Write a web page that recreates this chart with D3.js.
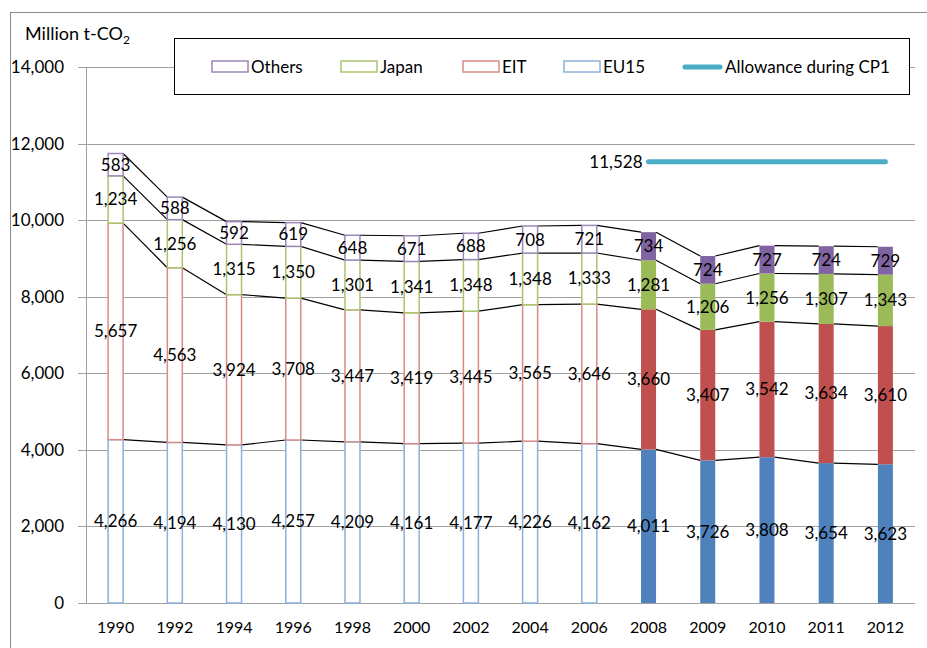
<!DOCTYPE html>
<html>
<head>
<meta charset="utf-8">
<script src="https://cdn.jsdelivr.net/npm/d3@7"></script>
<style>
body { margin: 0; background: #fff; }
text { font-family: Lato, "Open Sans", sans-serif; }
</style>
</head>
<body>
<script>
var years = ["1990","1992","1994","1996","1998","2000","2002","2004","2006","2008","2009","2010","2011","2012"];
var eu15 = [4266,4194,4130,4257,4209,4161,4177,4226,4162,4011,3726,3808,3654,3623];
var eit = [5657,4563,3924,3708,3447,3419,3445,3565,3646,3660,3407,3542,3634,3610];
var japan = [1234,1256,1315,1350,1301,1341,1348,1348,1333,1281,1206,1256,1307,1343];
var others = [583,588,592,619,648,671,688,708,721,734,724,727,724,729];
var allowance = 11528;
var allowanceYears = ["2008","2012"];
var hollowYears = years.slice(0, 9);

var series = [
  {name: "EU15", vals: eu15, fill: "#4F81BD", stroke: "#8DB0DC"},
  {name: "EIT", vals: eit, fill: "#C0504D", stroke: "#D98B89"},
  {name: "Japan", vals: japan, fill: "#9BBB59", stroke: "#A9C56E"},
  {name: "Others", vals: others, fill: "#8064A2", stroke: "#9C86BA"}
];

var w = 927, h = 648;
var m = {left: 86, right: 915, top: 67, bottom: 603};
var fs = "17px";

var svg = d3.select("body").append("svg")
  .attr("width", w)
  .attr("height", h);

// chart frame
svg.append("rect")
  .attr("x", 10.5).attr("y", 12.5)
  .attr("width", 940).attr("height", 660)
  .attr("fill", "none").attr("stroke", "#8c8c8c");

var x = d3.scaleBand().domain(years).range([m.left, m.right]);
var y = d3.scaleLinear().domain([0, 14000]).range([m.bottom, m.top]);
var bw = 15;

// gridlines
svg.append("g").selectAll("line")
  .data(y.ticks(7))
  .enter().append("line")
  .attr("x1", m.left - 8).attr("x2", m.right)
  .attr("y1", function(d) { return Math.round(y(d)) + 0.5; })
  .attr("y2", function(d) { return Math.round(y(d)) + 0.5; })
  .attr("stroke", "#a0a0a0");

svg.append("line")
  .attr("x1", m.left + 0.5).attr("x2", m.left + 0.5)
  .attr("y1", m.top).attr("y2", m.bottom)
  .attr("stroke", "#a0a0a0");

var yAxis = svg.append("g")
  .attr("transform", "translate(" + (m.left - 19) + ",0)")
  .call(d3.axisLeft(y).ticks(7).tickSize(0).tickFormat(d3.format(",")));
yAxis.select(".domain").remove();
yAxis.selectAll("text").attr("font-size", fs).attr("fill", "#000").attr("font-family", "Lato");

var xAxis = svg.append("g")
  .attr("transform", "translate(0," + (m.bottom + 16) + ")")
  .call(d3.axisBottom(x).tickSize(0));
xAxis.select(".domain").remove();
xAxis.selectAll("text").attr("font-size", "16px").attr("fill", "#000").attr("font-family", "Lato");

// stacked data
var stacked = d3.stack()
  .keys(series.map(function(s) { return s.name; }))(years.map(function(yr, i) {
    var row = {year: yr};
    series.forEach(function(s) { row[s.name] = s.vals[i]; });
    return row;
  }));

// series lines between bars
stacked.forEach(function(layer) {
  for (var i = 0; i < years.length - 1; i++) {
    svg.append("line")
      .attr("x1", x(years[i]) + x.bandwidth() / 2 + bw / 2)
      .attr("x2", x(years[i + 1]) + x.bandwidth() / 2 - bw / 2)
      .attr("y1", y(layer[i][1]))
      .attr("y2", y(layer[i + 1][1]))
      .attr("stroke", "#000")
      .attr("stroke-width", 1.2);
  }
});

stacked.forEach(function(layer, k) {
  var s = series[k];
  svg.append("g").selectAll("rect")
    .data(layer)
    .enter().append("rect")
    .attr("x", function(d) { return x(d.data.year) + x.bandwidth() / 2 - bw / 2; })
    .attr("y", function(d) { return y(d[1]); })
    .attr("width", bw)
    .attr("height", function(d) { return y(d[0]) - y(d[1]); })
    .attr("fill", function(d) { return hollowYears.indexOf(d.data.year) >= 0 ? "#fff" : s.fill; })
    .attr("stroke", function(d) { return hollowYears.indexOf(d.data.year) >= 0 ? s.stroke : "none"; })
    .attr("stroke-width", 1.5);
});

// value labels
stacked.forEach(function(layer) {
  svg.append("g").selectAll("text")
    .data(layer)
    .enter().append("text")
    .attr("x", function(d) { return x(d.data.year) + x.bandwidth() / 2; })
    .attr("y", function(d) { return y((d[0] + d[1]) / 2); })
    .attr("dy", "0.35em")
    .attr("text-anchor", "middle")
    .attr("font-size", fs)
    .text(function(d) { return d3.format(",")(d[1] - d[0]); });
});

// allowance line
var ax1 = x(allowanceYears[0]) + x.bandwidth() / 2;
var ax2 = x(allowanceYears[1]) + x.bandwidth() / 2;
svg.append("line")
  .attr("x1", ax1).attr("x2", ax2)
  .attr("y1", y(allowance)).attr("y2", y(allowance))
  .attr("stroke", "#4BACC6")
  .attr("stroke-width", 5)
  .attr("stroke-linecap", "round");
svg.append("text")
  .attr("x", ax1 - 6)
  .attr("y", y(allowance))
  .attr("dy", "0.35em")
  .attr("text-anchor", "end")
  .attr("font-size", fs)
  .text(d3.format(",")(allowance));

// axis title
var title = svg.append("text")
  .attr("x", 25).attr("y", 40)
  .attr("font-size", "18px");
title.append("tspan").text("Million t-CO");
title.append("tspan").attr("font-size", "12px").attr("dy", 4).text("2");

// legend
svg.append("rect")
  .attr("x", 174.5).attr("y", 38.5)
  .attr("width", 735).attr("height", 56)
  .attr("fill", "#fff").attr("stroke", "#000");

var legendItems = [
  {label: "Others", s: series[3], x: 212},
  {label: "Japan", s: series[2], x: 341},
  {label: "EIT", s: series[1], x: 463},
  {label: "EU15", s: series[0], x: 564}
];
legendItems.forEach(function(d) {
  svg.append("rect")
    .attr("x", d.x).attr("y", 61)
    .attr("width", 36).attr("height", 11)
    .attr("fill", "#fff")
    .attr("stroke", d.s.stroke)
    .attr("stroke-width", 1.5);
  svg.append("text")
    .attr("x", d.x + 39).attr("y", 67)
    .attr("dy", "0.35em")
    .attr("font-size", fs)
    .text(d.label);
});
svg.append("line")
  .attr("x1", 685).attr("x2", 720)
  .attr("y1", 67).attr("y2", 67)
  .attr("stroke", "#4BACC6")
  .attr("stroke-width", 5)
  .attr("stroke-linecap", "round");
svg.append("text")
  .attr("x", 725).attr("y", 67)
  .attr("dy", "0.35em")
  .attr("font-size", fs)
  .text("Allowance during CP1");
</script>
</body>
</html>
